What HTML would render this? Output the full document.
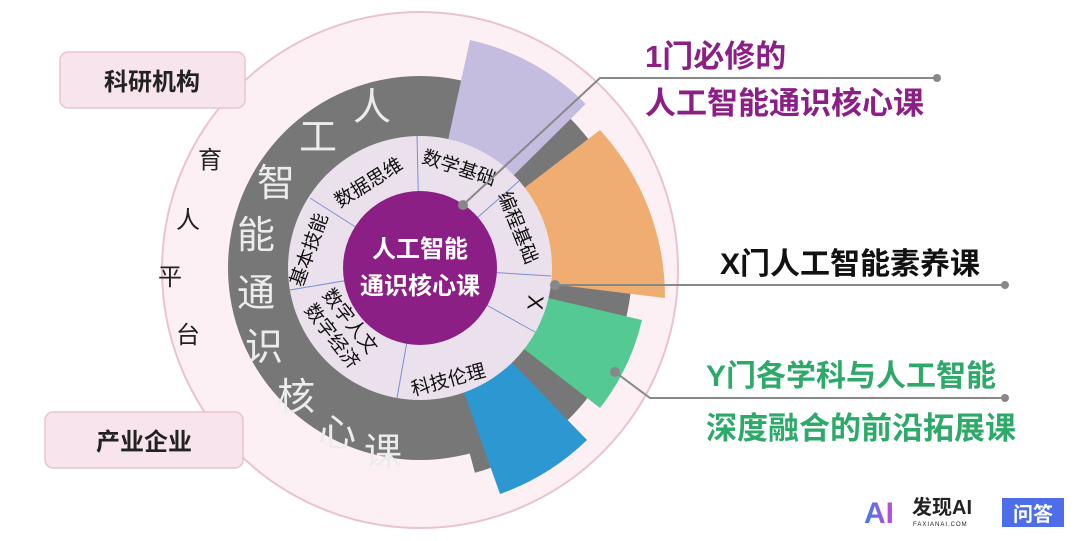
<!DOCTYPE html>
<html><head><meta charset="utf-8"><style>
body{margin:0;width:1080px;height:536px;background:#fff;overflow:hidden;font-family:"Liberation Sans","Noto Sans CJK SC",sans-serif}
</style></head><body>
<svg width="1080" height="536" viewBox="0 0 1080 536" xmlns="http://www.w3.org/2000/svg" font-family="Liberation Sans, Noto Sans CJK SC, sans-serif">
<defs><linearGradient id="g" x1="0" x2="1"><stop offset="0" stop-color="#3d7cf0"/><stop offset="1" stop-color="#c44ad8"/></linearGradient></defs>
<circle cx="420" cy="270" r="258" fill="#fcf0f5" stroke="#e9c3d2" stroke-width="2"/>
<rect x="60" y="52" width="185" height="56" rx="8" fill="#f8e4ed" stroke="#e9c3d2" stroke-width="1.5"/>
<rect x="45" y="412" width="198" height="56" rx="8" fill="#f8e4ed" stroke="#e9c3d2" stroke-width="1.5"/>
<text x="152" y="90" font-size="24" font-weight="bold" text-anchor="middle" fill="#222">科研机构</text>
<text x="144" y="450" font-size="24" font-weight="bold" text-anchor="middle" fill="#222">产业企业</text>
<g font-size="24" fill="#222" text-anchor="middle">
<text x="210" y="168">育</text><text x="188" y="228">人</text><text x="170" y="285">平</text><text x="188" y="343">台</text></g>
<circle cx="420" cy="268" r="192" fill="#777"/>
<path d="M420,268 L526,84.4 A212,212 0 0 1 474.9,472.8 Z" fill="#777"/>
<path d="M420,268 L470,40 A233,233 0 0 1 585.7,104 Z" fill="#c4bde0"/>
<path d="M420,268 L600,130 A247,247 0 0 1 665,298 Z" fill="#f0ad72"/>
<path d="M420,268 L642,320 A228,228 0 0 1 600,408 Z" fill="#55c993"/>
<path d="M420,268 L587,440 A240,240 0 0 1 500,494 Z" fill="#2d97d2"/>
<circle cx="420" cy="268" r="132" fill="#ebe1ec"/>
<g stroke="#7d8fd0" stroke-width="1">
<line x1="420" y1="268" x2="417" y2="136"/>
<line x1="420" y1="268" x2="519" y2="181"/>
<line x1="420" y1="268" x2="551" y2="276"/>
<line x1="420" y1="268" x2="535" y2="332"/>
<line x1="420" y1="268" x2="397" y2="398"/>
<line x1="420" y1="268" x2="290" y2="290"/>
<line x1="420" y1="268" x2="310" y2="198"/>
</g>
<circle cx="420" cy="268" r="77" fill="#8c1f86"/>
<text x="420" y="257" font-size="24" font-weight="bold" fill="#fff" text-anchor="middle">人工智能</text>
<text x="420" y="294" font-size="24" font-weight="bold" fill="#fff" text-anchor="middle">通识核心课</text>
<g font-size="19" fill="#111" text-anchor="middle">
<text transform="translate(372,188) rotate(-32)">数据思维</text>
<text transform="translate(457,174) rotate(18)">数学基础</text>
<text transform="translate(512,230) rotate(68)">编程基础</text>
<text transform="translate(528,302) rotate(95)" font-size="22">X</text>
<text transform="translate(450,386) rotate(-15)">科技伦理</text>
<text transform="translate(315,252) rotate(-70)">基本技能</text>
<text transform="translate(345,325) rotate(52)">数字人文</text>
<text transform="translate(327,340) rotate(52)">数字经济</text>
</g>
<g font-size="38" fill="#ececec" text-anchor="middle">
<text x="372" y="120">人</text><text x="318" y="150">工</text><text x="276" y="196">智</text>
<text x="256" y="248">能</text><text x="256" y="306">通</text><text x="264" y="360">识</text>
<text x="296" y="410">核</text><text x="337" y="446">心</text><text x="383" y="465">课</text></g>
<g stroke="#888" stroke-width="2" fill="none">
<polyline points="463,205 600,78 937,78"/>
<polyline points="555,285 1005,285"/>
<polyline points="615,372 650,398 1005,398"/>
</g>
<g fill="#888"><circle cx="463" cy="205" r="5"/><circle cx="937" cy="78" r="4"/><circle cx="555" cy="285" r="5"/><circle cx="1005" cy="285" r="4"/><circle cx="615" cy="372" r="5"/><circle cx="1005" cy="398" r="4"/></g>
<text x="645" y="67" font-size="31" font-weight="bold" fill="#8c1f86">1门必修的</text>
<text x="645" y="114" font-size="31" font-weight="bold" fill="#8c1f86">人工智能通识核心课</text>
<text x="720" y="274" font-size="30" font-weight="bold" fill="#111">X门人工智能素养课</text>
<text x="706" y="386" font-size="30" font-weight="bold" fill="#2daa6a">Y门各学科与人工智能</text>
<text x="706" y="439" font-size="31" font-weight="bold" fill="#2daa6a">深度融合的前沿拓展课</text>
<text x="864" y="523" font-size="30" font-weight="bold" fill="url(#g)">AI</text>
<text x="912" y="514" font-size="20" font-weight="bold" fill="#222">发现AI</text>
<text x="913" y="526" font-size="6" fill="#222" letter-spacing="1">FAXIANAI.COM</text>
<rect x="1002" y="498" width="62" height="29" fill="#4d6ee8"/>
<text x="1033" y="521" font-size="20" font-weight="bold" fill="#fff" text-anchor="middle">问答</text>
</svg>
</body></html>
